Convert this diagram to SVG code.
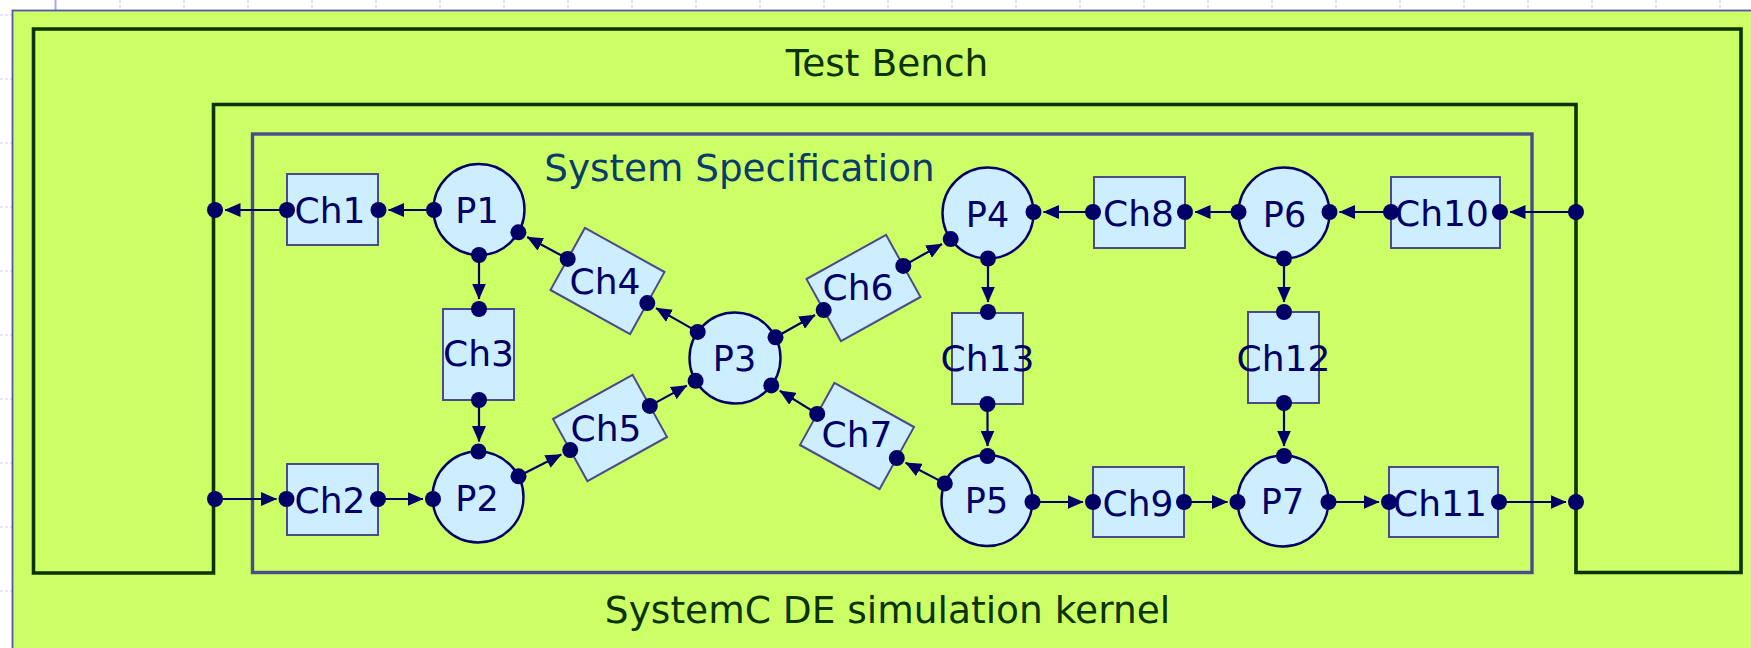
<svg xmlns="http://www.w3.org/2000/svg" width="1751" height="648" viewBox="0 0 1751 648">
  <style>
    text { font-family: "DejaVu Sans", Verdana, sans-serif; }
    .grid { stroke: #c9d3f5; stroke-width: 1.2; stroke-dasharray: 3 2; }
    .frame { fill: none; stroke: #0a3300; stroke-width: 3.6; stroke-linejoin: miter; }
    .spec { fill: none; stroke: #4a4a8c; stroke-width: 3.4; }
    .ch { fill: #cceeff; stroke: #4a4a8c; stroke-width: 2; }
    .proc { fill: #cceeff; stroke: #000066; stroke-width: 2.4; }
    .port { fill: #000066; }
    .wire { fill: none; stroke: #000066; stroke-width: 2.2; marker-end: url(#ah); }
    .lbl { fill: #000066; font-size: 36px; text-anchor: middle; }
    .plbl { fill: #000066; font-size: 35px; text-anchor: middle; }
    .title { font-size: 37.5px; text-anchor: middle; }
  </style>
  <defs>
    <marker id="ah" markerUnits="userSpaceOnUse" markerWidth="16" markerHeight="14" viewBox="0 0 16 14" refX="15.5" refY="7" orient="auto">
      <path d="M0,0 L16,7 L0,14 z" fill="#000066"/>
    </marker>
  </defs>

  <!-- page background with ruler ticks -->
  <rect x="0" y="0" width="1751" height="648" fill="#ffffff"/>
  <g id="ruler">
    <line x1="55.5" y1="0" x2="55.5" y2="10" stroke="#9fb0f0" stroke-width="2"/>
    <g class="grid">
      <path d="M120,0V10 M184,0V10 M248,0V10 M312,0V10 M376,0V10 M440,0V10 M504,0V10 M568,0V10 M632,0V10 M696,0V10 M760,0V10 M824,0V10 M888,0V10 M952,0V10 M1016,0V10 M1080,0V10 M1144,0V10 M1208,0V10 M1272,0V10 M1336,0V10 M1400,0V10 M1464,0V10 M1528,0V10 M1592,0V10 M1656,0V10 M1720,0V10"/>
      <path d="M0,15H12 M0,79H12 M0,143H12 M0,207H12 M0,271H12 M0,335H12 M0,399H12 M0,463H12 M0,527H12 M0,591H12"/>
    </g>
  </g>

  <!-- simulation kernel area -->
  <g id="kernel">
    <rect x="12.5" y="10.5" width="1745" height="645" fill="#ccff66" stroke="#5656a8" stroke-width="1.8"/>
    <text class="title" x="887.5" y="623" fill="#0a3300">SystemC DE simulation kernel</text>
  </g>

  <!-- test bench wrapper -->
  <g id="testbench">
    <path class="frame" d="M33.5,573 V29 H1741 V572.5 H1576 V104.5 H213.5 V573 Z"/>
    <text class="title" x="887" y="75.5" fill="#0a3300">Test Bench</text>
    <circle class="port" cx="215" cy="210" r="8"/>
    <circle class="port" cx="215" cy="499" r="8"/>
    <circle class="port" cx="1576" cy="212" r="8"/>
    <circle class="port" cx="1576" cy="502" r="8"/>
  </g>

  <!-- system specification boundary -->
  <g id="spec">
    <rect class="spec" x="252.5" y="134" width="1279.5" height="438.5"/>
    <text class="title" x="739.5" y="181" fill="#0b3b6b" style="font-size:37.3px">System Specification</text>
  </g>

  <!-- connectors -->
  <g id="connectors">
    <path class="wire" d="M434,210 H388.5"/>
    <path class="wire" d="M287,210 H225"/>
    <path class="wire" d="M479,255 V299"/>
    <path class="wire" d="M479,400 V441.5"/>
    <path class="wire" d="M567.7,258.9 L527.2,237"/>
    <path class="wire" d="M697.7,331.9 L656,308.1"/>
    <path class="wire" d="M215,499 H276.5"/>
    <path class="wire" d="M378,499 H423"/>
    <path class="wire" d="M518.5,476.3 L561.3,454.6"/>
    <path class="wire" d="M649.8,405.9 L686.8,385.6"/>
    <path class="wire" d="M775.5,337.3 L815,315"/>
    <path class="wire" d="M903.3,265.9 L942,244"/>
    <path class="wire" d="M1093,212 H1043.5"/>
    <path class="wire" d="M1238.5,212 H1195"/>
    <path class="wire" d="M1391,212 H1339.5"/>
    <path class="wire" d="M1576,212 H1510"/>
    <path class="wire" d="M988,258.5 V302"/>
    <path class="wire" d="M987.5,404 V446"/>
    <path class="wire" d="M817.2,413.9 L779.8,390.7"/>
    <path class="wire" d="M944.8,483.4 L905.6,462.8"/>
    <path class="wire" d="M1032.5,502 H1083"/>
    <path class="wire" d="M1184,502 H1227.5"/>
    <path class="wire" d="M1328.5,502 H1379"/>
    <path class="wire" d="M1499,502 H1566"/>
    <path class="wire" d="M1284,258.5 V302"/>
    <path class="wire" d="M1284,403 V446"/>
  </g>

  <!-- channels -->
  <g id="Ch1">
    <rect class="ch" x="287" y="174" width="91" height="71"/>
    <text class="lbl" x="330" y="223">Ch1</text>
    <circle class="port" cx="287" cy="210" r="8"/>
    <circle class="port" cx="378.5" cy="210" r="8"/>
  </g>
  <g id="Ch2">
    <rect class="ch" x="287" y="464" width="91" height="71"/>
    <text class="lbl" x="330" y="512.5">Ch2</text>
    <circle class="port" cx="286.5" cy="499" r="8"/>
    <circle class="port" cx="378" cy="499" r="8"/>
  </g>
  <g id="Ch3">
    <rect class="ch" x="443" y="309" width="71" height="91"/>
    <text class="lbl" x="478.5" y="365.5">Ch3</text>
    <circle class="port" cx="479" cy="309" r="8"/>
    <circle class="port" cx="479" cy="400" r="8"/>
  </g>
  <g id="Ch4">
    <rect class="ch" x="-45.5" y="-35.5" width="91" height="71" transform="translate(607.5 281) rotate(29)"/>
    <text class="lbl" x="605" y="293.5">Ch4</text>
    <circle class="port" cx="567.7" cy="258.9" r="8"/>
    <circle class="port" cx="647.3" cy="303.1" r="8"/>
  </g>
  <g id="Ch5">
    <rect class="ch" x="-45.5" y="-35.5" width="91" height="71" transform="translate(610 428) rotate(-29)"/>
    <text class="lbl" x="606" y="440.5">Ch5</text>
    <circle class="port" cx="570.2" cy="450.1" r="8"/>
    <circle class="port" cx="649.8" cy="405.9" r="8"/>
  </g>
  <g id="Ch6">
    <rect class="ch" x="-45.5" y="-35.5" width="91" height="71" transform="translate(863.5 288) rotate(-29)"/>
    <text class="lbl" x="858" y="299.5">Ch6</text>
    <circle class="port" cx="823.7" cy="310.1" r="8"/>
    <circle class="port" cx="903.3" cy="265.9" r="8"/>
  </g>
  <g id="Ch7">
    <rect class="ch" x="-45.5" y="-35.5" width="91" height="71" transform="translate(857 436) rotate(29)"/>
    <text class="lbl" x="857" y="446.5">Ch7</text>
    <circle class="port" cx="817.2" cy="413.9" r="8"/>
    <circle class="port" cx="896.8" cy="458.1" r="8"/>
  </g>
  <g id="Ch8">
    <rect class="ch" x="1094" y="177" width="91" height="71"/>
    <text class="lbl" x="1138.5" y="225.5">Ch8</text>
    <circle class="port" cx="1093" cy="212" r="8"/>
    <circle class="port" cx="1185" cy="212" r="8"/>
  </g>
  <g id="Ch9">
    <rect class="ch" x="1093" y="467" width="91" height="70"/>
    <text class="lbl" x="1138" y="515.5">Ch9</text>
    <circle class="port" cx="1093" cy="502" r="8"/>
    <circle class="port" cx="1184" cy="502" r="8"/>
  </g>
  <g id="Ch10">
    <rect class="ch" x="1391" y="177" width="109" height="71"/>
    <text class="lbl" x="1442" y="225.5">Ch10</text>
    <circle class="port" cx="1391" cy="212" r="8"/>
    <circle class="port" cx="1500" cy="212" r="8"/>
  </g>
  <g id="Ch11">
    <rect class="ch" x="1389" y="467" width="109" height="70"/>
    <text class="lbl" x="1440" y="515.5">Ch11</text>
    <circle class="port" cx="1389" cy="502" r="8"/>
    <circle class="port" cx="1499" cy="502" r="8"/>
  </g>
  <g id="Ch12">
    <rect class="ch" x="1248" y="312" width="71" height="91"/>
    <text class="lbl" x="1283.5" y="370.5">Ch12</text>
    <circle class="port" cx="1284" cy="312" r="8"/>
    <circle class="port" cx="1284" cy="403" r="8"/>
  </g>
  <g id="Ch13">
    <rect class="ch" x="952" y="313" width="71" height="91"/>
    <text class="lbl" x="987.5" y="370.5">Ch13</text>
    <circle class="port" cx="988" cy="312" r="8"/>
    <circle class="port" cx="987.5" cy="404" r="8"/>
  </g>

  <!-- processes -->
  <g id="P1">
    <circle class="proc" cx="479" cy="209.5" r="45.5"/>
    <text class="plbl" x="477" y="222.5">P1</text>
    <circle class="port" cx="434" cy="210" r="8"/>
    <circle class="port" cx="479" cy="255" r="8"/>
    <circle class="port" cx="518.4" cy="232.3" r="8"/>
  </g>
  <g id="P2">
    <circle class="proc" cx="478" cy="497" r="45.5"/>
    <text class="plbl" x="477" y="510.5">P2</text>
    <circle class="port" cx="478.5" cy="451.5" r="8"/>
    <circle class="port" cx="433" cy="499" r="8"/>
    <circle class="port" cx="518.5" cy="476.3" r="8"/>
  </g>
  <g id="P3">
    <circle class="proc" cx="735" cy="358" r="45.5"/>
    <text class="plbl" x="734.5" y="371">P3</text>
    <circle class="port" cx="697.7" cy="331.9" r="8"/>
    <circle class="port" cx="775.5" cy="337.3" r="8"/>
    <circle class="port" cx="695.6" cy="380.8" r="8"/>
    <circle class="port" cx="771.3" cy="385.4" r="8"/>
  </g>
  <g id="P4">
    <circle class="proc" cx="988" cy="213" r="45.5"/>
    <text class="plbl" x="987.5" y="226.5">P4</text>
    <circle class="port" cx="1033.5" cy="212" r="8"/>
    <circle class="port" cx="988" cy="258.5" r="8"/>
    <circle class="port" cx="950.7" cy="239.1" r="8"/>
  </g>
  <g id="P5">
    <circle class="proc" cx="987" cy="500.5" r="45.5"/>
    <text class="plbl" x="986.5" y="513">P5</text>
    <circle class="port" cx="987.5" cy="456" r="8"/>
    <circle class="port" cx="944.8" cy="483.4" r="8"/>
    <circle class="port" cx="1032.5" cy="502" r="8"/>
  </g>
  <g id="P6">
    <circle class="proc" cx="1284" cy="213" r="45.5"/>
    <text class="plbl" x="1284.5" y="226.5">P6</text>
    <circle class="port" cx="1238.5" cy="212" r="8"/>
    <circle class="port" cx="1329.5" cy="212" r="8"/>
    <circle class="port" cx="1284" cy="258.5" r="8"/>
  </g>
  <g id="P7">
    <circle class="proc" cx="1283" cy="501" r="45.5"/>
    <text class="plbl" x="1282.5" y="513.5">P7</text>
    <circle class="port" cx="1284" cy="456" r="8"/>
    <circle class="port" cx="1237.5" cy="502" r="8"/>
    <circle class="port" cx="1328.5" cy="502" r="8"/>
  </g>
</svg>
